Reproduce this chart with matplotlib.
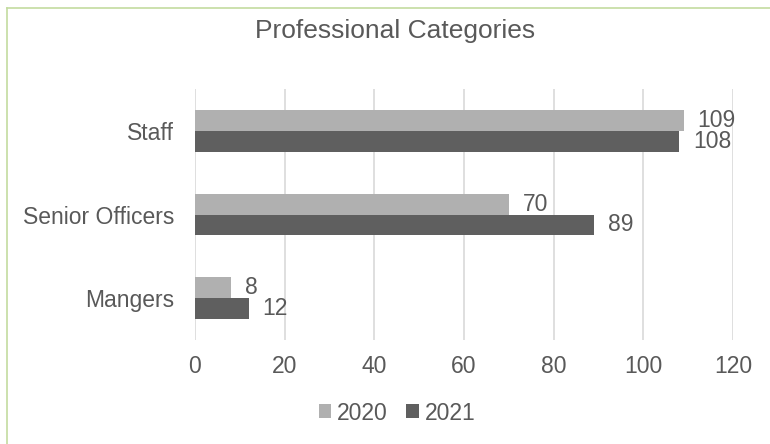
import matplotlib
matplotlib.use("Agg")
import matplotlib.pyplot as plt
import numpy as np
from matplotlib.lines import Line2D

categories = ["Staff", "Senior Officers", "Mangers"]
values_2020 = [109, 70, 8]
values_2021 = [108, 89, 12]
series_names = ["2020", "2021"]
x_ticks = [0, 20, 40, 60, 80, 100, 120]

plt.rcParams['font.family'] = ['Liberation Sans', 'DejaVu Sans']
text_color = "#595959"
c2020 = "#B0B0B0"
c2021 = "#5F5F5F"
fs = 16.5

fig = plt.figure(figsize=(7.70, 4.44), dpi=100)
ax = fig.add_axes([0.2532, 0.2342, 0.952 - 0.2532, 0.7995 - 0.2342])

y = np.arange(len(categories))
h = 0.25
b1 = ax.barh(y - h / 2, values_2020, height=h, color=c2020, label=series_names[0], zorder=3)
b2 = ax.barh(y + h / 2, values_2021, height=h, color=c2021, label=series_names[1], zorder=3)

for bars, vals in ((b1, values_2020), (b2, values_2021)):
    for rect, v in zip(bars, vals):
        ax.annotate(str(v), xy=(rect.get_width(), rect.get_y() + rect.get_height() / 2),
                    xytext=(10, 0), textcoords="offset points", ha="left", va="center",
                    fontsize=fs, color=text_color)

ax.set_xlim(0, 120)
ax.set_ylim(2.5, -0.5)
ax.set_xticks(x_ticks)
ax.set_xticklabels([str(t) for t in x_ticks])
ax.set_yticks(y)
ax.set_yticklabels(categories)
ax.tick_params(axis="both", length=0, labelsize=fs, labelcolor=text_color)
ax.tick_params(axis="x", pad=11)
ax.tick_params(axis="y", pad=15)
ax.grid(axis="x", color="#D9D9D9", linewidth=1.2, zorder=0)
for s in ax.spines.values():
    s.set_visible(False)

fig.text(0.513, 1 - 31 / 444, "Professional Categories", fontsize=19, color=text_color,
         ha="center", va="center")

leg = fig.legend(handles=[b1, b2], labels=series_names, loc="center",
                 bbox_to_anchor=(397 / 770, 1 - 413 / 444), ncol=2, frameon=False,
                 fontsize=fs, handlelength=0.55, handleheight=0.55, handletextpad=0.25,
                 columnspacing=0.8)
for t in leg.get_texts():
    t.set_color(text_color)

border = "#C3DCA0"
fig.add_artist(Line2D([7 / 770, 1.0], [1 - 8 / 444, 1 - 8 / 444], color=border, linewidth=1.2,
                      transform=fig.transFigure))
fig.add_artist(Line2D([7 / 770, 7 / 770], [1 - 8 / 444, 0.0], color=border, linewidth=1.2,
                      transform=fig.transFigure))

fig.savefig("out.png", dpi=100, facecolor="white")
